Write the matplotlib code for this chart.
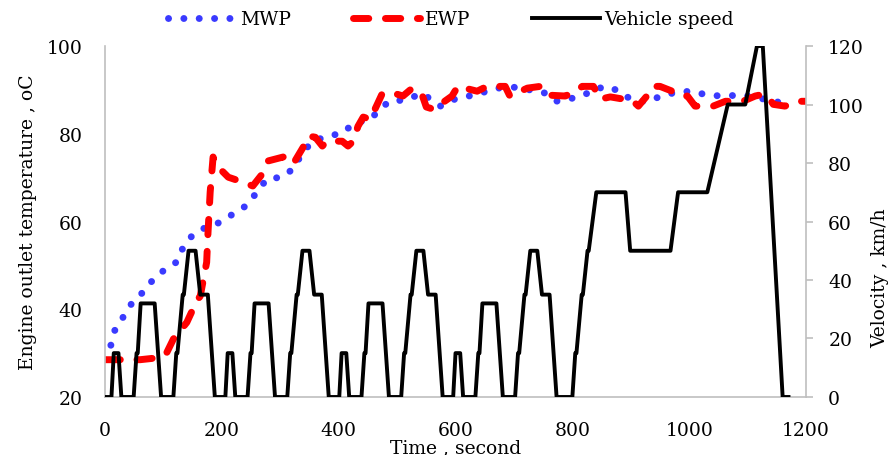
import matplotlib
matplotlib.use("Agg")
import matplotlib.pyplot as plt
import numpy as np

plt.rcParams['font.family'] = ['DejaVu Serif']

# Temperatura de salida del motor, bomba mecánica (MWP)
mwp_t = [10, 17, 31, 46, 65, 82, 101, 123, 134, 151, 173, 199, 221, 243, 260,
         277, 303, 324, 337, 356, 382, 406, 428, 452, 486, 514, 543, 574, 599,
         623, 649, 673, 700, 750, 772, 800, 817, 841, 868, 887, 926, 952, 979,
         1005, 1031, 1058, 1087, 1113, 1142, 1165]
mwp_T = [31.8, 35.3, 38.2, 41.4, 43.9, 46.7, 48.9, 50.8, 54.2, 57.1, 58.7, 59.9,
         61.9, 63.7, 66.7, 69.7, 70.1, 72.2, 75.6, 78.3, 79.5, 80.1, 82.6, 83.1,
         87.4, 87.7, 89.2, 86.3, 87.9, 88.6, 89.5, 90.4, 90.6, 89.5, 87.4, 88.1,
         88.6, 90.4, 90.6, 88.6, 87.2, 88.6, 89.5, 89.7, 88.8, 88.6, 88.8, 88.4,
         87.4, 87.0]

# Temperatura de salida del motor, bomba eléctrica (EWP)
ewp_t = [0, 60, 95, 106, 117, 140, 157, 163, 174, 176, 180, 185, 191, 202, 211,
         231, 253, 269, 279, 305, 322, 339, 348, 360, 372, 380, 406, 416, 425,
         433, 442, 454, 466, 474, 488, 510, 526, 543, 550, 562, 574, 594, 604,
         637, 654, 685, 693, 723, 745, 759, 788, 805, 817, 836, 848, 865, 887,
         904, 913, 930, 938, 950, 971, 985, 997, 1010, 1041, 1062, 1092, 1113,
         1127, 1134, 1144, 1164, 1185, 1200]
ewp_T = [28.5, 28.5, 29.0, 30.2, 33.2, 37.0, 41.9, 43.0, 50.7, 56.7, 66.7, 74.7,
         72.6, 71.3, 70.1, 69.2, 68.1, 70.8, 73.8, 74.7, 73.1, 76.9, 79.5, 79.2,
         77.2, 78.3, 78.3, 77.2, 78.3, 81.7, 83.8, 83.3, 86.7, 89.0, 89.5, 88.6,
         90.4, 88.8, 86.1, 85.6, 86.7, 88.6, 90.8, 89.7, 90.8, 90.8, 88.6, 90.4,
         90.8, 88.8, 88.6, 89.7, 90.8, 90.8, 87.9, 88.4, 87.9, 87.4, 86.3, 89.0,
         90.8, 90.8, 89.7, 88.6, 88.6, 86.3, 86.3, 87.4, 87.4, 88.6, 89.0, 88.6,
         86.7, 86.3, 87.4, 87.4]

# Ciclo de conducción: tramo urbano (se repite 4 veces) y tramo extraurbano
ece_t = [0, 11, 15, 23, 28, 49, 54, 56, 61, 85, 96, 117, 122, 124, 133, 135,
         143, 155, 163, 176, 188, 195]
ece_v = [0, 0, 15, 15, 0, 0, 15, 15, 32, 32, 0, 0, 15, 15, 35, 35, 50, 50, 35,
         35, 0, 0]
eudc_t = [0, 20, 25, 27, 36, 38, 46, 48, 61, 111, 119, 188, 201, 251, 286, 316,
          336, 346, 380, 390]
eudc_v = [0, 0, 15, 15, 35, 35, 50, 50, 70, 70, 50, 50, 70, 70, 100, 100, 120,
          120, 0, 0]
ece_inicio = [0, 195, 390, 585]
eudc_inicio = 780

vel_t = []
vel_v = []
for t0 in ece_inicio:
    vel_t += [t0 + t for t in ece_t]
    vel_v += ece_v
vel_t += [eudc_inicio + t for t in eudc_t]
vel_v += eudc_v

gris = '#BFBFBF'

fig = plt.figure(figsize=(8.93, 4.56), dpi=100)
ax = fig.add_axes([0.1176, 0.1272, 0.785, 0.7697])
ax2 = ax.twinx()

l1, = ax.plot(mwp_t, mwp_T, color='#3A3AFF', lw=5, linestyle=(0, (0.01, 2.2)),
              dash_capstyle='round', label='MWP')
l2, = ax.plot(ewp_t, ewp_T, color='#FF0000', lw=5, linestyle=(0, (2.2, 2.4)),
              dash_capstyle='round', label='EWP')
l3, = ax2.plot(vel_t, vel_v, color='black', lw=2.8, label='Vehicle speed')

ax.set_xlim(0, 1200)
ax.set_ylim(20, 100)
ax2.set_ylim(0, 120)
ax.set_xticks(np.arange(0, 1201, 200))
ax.set_yticks(np.arange(20, 101, 20))
ax2.set_yticks(np.arange(0, 121, 20))

for s in ['top', 'right']:
    ax.spines[s].set_visible(False)
for s in ['top', 'left', 'bottom']:
    ax2.spines[s].set_visible(False)
for s in ['left', 'bottom']:
    ax.spines[s].set_color(gris)
    ax.spines[s].set_linewidth(1.2)
ax2.spines['right'].set_color(gris)
ax2.spines['right'].set_linewidth(1.2)

ax.tick_params(axis='y', length=0, pad=16, labelsize=13.5)
ax.tick_params(axis='x', length=0, pad=17, labelsize=13.5)
ax2.tick_params(axis='y', length=5, width=1.2, color=gris, pad=11, labelsize=13.5)

ax.set_xlabel('Time , second', fontsize=13.5, labelpad=0)
ax.set_ylabel('Engine outlet temperature , oC', fontsize=13.5, labelpad=7)
ax2.set_ylabel('Velocity , km/h', fontsize=13.5, labelpad=5, y=0.34)

fig.legend(handles=[l1, l2, l3], loc='center', bbox_to_anchor=(0.505, 0.956),
           ncol=3, frameon=False, fontsize=13.5, handlelength=3.6,
           handletextpad=0.25, columnspacing=3.3)

fig.savefig('out.png', dpi=100)
